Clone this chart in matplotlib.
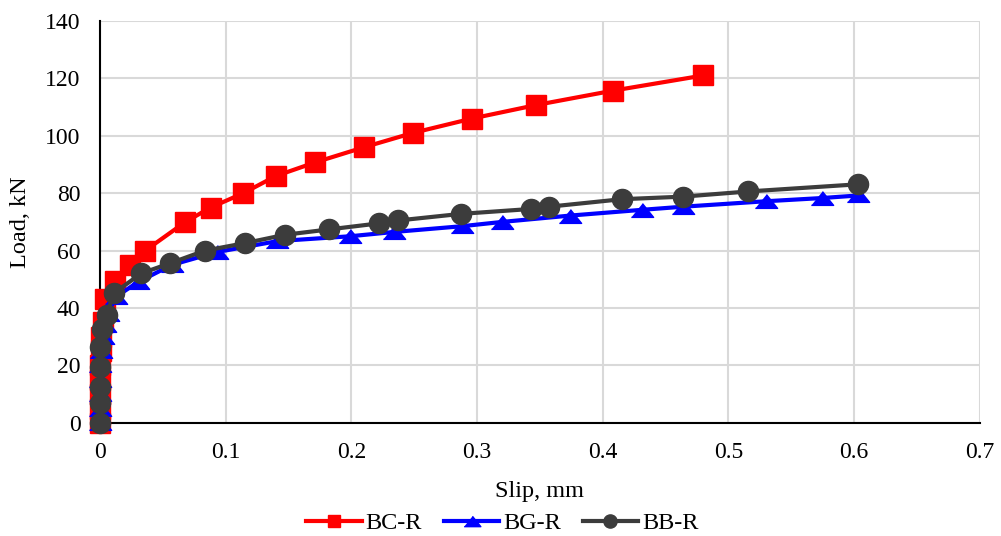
import matplotlib
matplotlib.use("Agg")
import matplotlib.pyplot as plt
from matplotlib.lines import Line2D

plt.rcParams['font.family'] = ['Liberation Serif', 'DejaVu Serif']

# Data
bc_x = [0, 0, 0, 0, 0, 0.0005, 0.001, 0.002, 0.004, 0.012, 0.024, 0.036, 0.068, 0.088, 0.114, 0.14, 0.171, 0.21, 0.249, 0.296, 0.347, 0.408, 0.48]
bc_y = [0, 5, 10, 15, 20, 25, 30, 35, 43, 49.5, 55, 60, 70, 75, 80, 86, 90.7, 96, 101, 106, 110.7, 115.7, 121]

bg_x = [0, 0, 0, 0, 0, 0.001, 0.002, 0.004, 0.006, 0.013, 0.03, 0.057, 0.093, 0.141, 0.199, 0.234, 0.288, 0.320, 0.374, 0.431, 0.464, 0.530, 0.574, 0.603]
bg_y = [0, 5, 10, 15, 20, 25, 30, 34, 38, 44, 49, 55, 59.5, 63.3, 65, 66.5, 68.5, 70, 72.2, 74.2, 75.3, 77.2, 78.3, 79.2]

bb_x = [0, 0, 0, 0, 0, 0.0013, 0.0053, 0.011, 0.033, 0.0557, 0.0835, 0.1153, 0.147, 0.1824, 0.2222, 0.2373, 0.2872, 0.3426, 0.3574, 0.415, 0.464, 0.5157, 0.6032]
bb_y = [0, 6.8, 12.6, 19.6, 26.6, 32.6, 37.6, 45.2, 52.1, 55.6, 60, 62.6, 65.5, 67.4, 69.5, 70.5, 72.8, 74.5, 75.3, 77.9, 78.8, 80.6, 83.1]

labels = ["BC-R", "BG-R", "BB-R"]
x_ticks = [0, 0.1, 0.2, 0.3, 0.4, 0.5, 0.6, 0.7]
x_tick_labels = ["0", "0.1", "0.2", "0.3", "0.4", "0.5", "0.6", "0.7"]
y_ticks = [0, 20, 40, 60, 80, 100, 120, 140]

fig = plt.figure(figsize=(10.01, 5.36), dpi=100)
ax = fig.add_axes([0.0999, 0.211, 0.879, 0.75])

tri = [(-1, -0.62), (1, -0.62), (0, 0.62)]
red = '#ff0000'
blue = '#0000ff'
dark = '#3c3c3c'

ax.plot(bc_x, bc_y, color=red, lw=3, marker='s', ms=14, mfc=red, mec=red, label=labels[0], zorder=3, clip_on=False)
ax.plot(bg_x, bg_y, color=blue, lw=3, marker=tri, ms=16, mfc=blue, mec=blue, label=labels[1], zorder=4, clip_on=False)
ax.plot(bb_x, bb_y, color=dark, lw=3, marker='o', ms=14.5, mfc=dark, mec=dark, label=labels[2], zorder=5, clip_on=False)

ax.set_xlim(0, 0.7)
ax.set_ylim(0, 140)
ax.set_xticks(x_ticks)
ax.set_xticklabels(x_tick_labels)
ax.set_yticks(y_ticks)
ax.tick_params(length=0, labelsize=17)
ax.tick_params(axis='y', pad=14)
ax.tick_params(axis='x', pad=14)
ax.grid(True, color='#d9d9d9', lw=1.5)
ax.set_axisbelow(True)
for s in ['top', 'right']:
    ax.spines[s].set_visible(False)
ax.spines['left'].set_linewidth(1.5)
ax.spines['bottom'].set_linewidth(1.5)

ax.set_xlabel("Slip, mm", fontsize=17.5, labelpad=13)
ax.set_ylabel("Load, kN", fontsize=17.5, labelpad=10)

handles = [
    Line2D([], [], color=red, lw=3, marker='s', ms=9),
    Line2D([], [], color=blue, lw=3, marker=tri, ms=12),
    Line2D([], [], color=dark, lw=3, marker='o', ms=9.5),
]
fig.legend(handles, labels, loc='lower center', bbox_to_anchor=(0.502, -0.038), ncol=3,
           frameon=False, fontsize=17.5, handlelength=2.27, columnspacing=0.9, handletextpad=0.17)

fig.savefig("out.png", dpi=100)
